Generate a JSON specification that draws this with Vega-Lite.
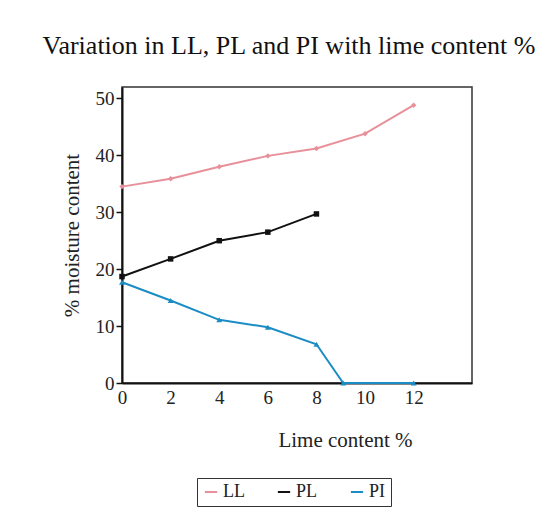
{
  "$schema": "https://vega.github.io/schema/vega-lite/v6.json",
  "autosize": "none",
  "width": 350,
  "height": 296,
  "padding": {"left": 122, "top": 87, "right": 88, "bottom": 139},
  "background": "white",
  "title": {
    "text": "Variation in LL, PL and PI with lime content %",
    "font": "Liberation Serif",
    "fontSize": 26,
    "fontWeight": "normal",
    "color": "#111",
    "anchor": "middle",
    "dx": -8,
    "offset": 28
  },
  "config": {
    "view": {"stroke": "#333", "strokeWidth": 1.5},
    "font": "Liberation Serif"
  },
  "data": {
    "values": [
      {"series": "LL", "lime": 0, "moisture": 34.5},
      {"series": "LL", "lime": 2, "moisture": 35.9},
      {"series": "LL", "lime": 4, "moisture": 38.0},
      {"series": "LL", "lime": 6, "moisture": 39.9},
      {"series": "LL", "lime": 8, "moisture": 41.2},
      {"series": "LL", "lime": 10, "moisture": 43.8},
      {"series": "LL", "lime": 12, "moisture": 48.8},
      {"series": "PL", "lime": 0, "moisture": 18.7},
      {"series": "PL", "lime": 2, "moisture": 21.8},
      {"series": "PL", "lime": 4, "moisture": 25.0},
      {"series": "PL", "lime": 6, "moisture": 26.5},
      {"series": "PL", "lime": 8, "moisture": 29.7},
      {"series": "PI", "lime": 0, "moisture": 17.7},
      {"series": "PI", "lime": 2, "moisture": 14.5},
      {"series": "PI", "lime": 4, "moisture": 11.1},
      {"series": "PI", "lime": 6, "moisture": 9.8},
      {"series": "PI", "lime": 8, "moisture": 6.8},
      {"series": "PI", "lime": 9.1, "moisture": 0},
      {"series": "PI", "lime": 12, "moisture": 0}
    ]
  },
  "encoding": {
    "x": {
      "field": "lime",
      "type": "quantitative",
      "scale": {"domain": [0, 14.4], "nice": false, "zero": false},
      "axis": {
        "values": [0, 2, 4, 6, 8, 10, 12],
        "ticks": false,
        "grid": false,
        "domainColor": "#111",
        "domainWidth": 2,
        "labelFont": "Liberation Serif",
        "labelFontSize": 19,
        "labelColor": "#222",
        "labelPadding": 5,
        "labelFlush": false,
        "labelOverlap": false,
        "title": "Lime content %",
        "titleFont": "Liberation Serif",
        "titleFontSize": 21,
        "titleFontWeight": "normal",
        "titleColor": "#222",
        "titleX": 223,
        "titleY": 57,
        "titleBaseline": "middle"
      }
    },
    "y": {
      "field": "moisture",
      "type": "quantitative",
      "scale": {"domain": [0, 52], "nice": false},
      "axis": {
        "values": [0, 10, 20, 30, 40, 50],
        "grid": false,
        "domainColor": "#111",
        "domainWidth": 2,
        "tickColor": "#111",
        "tickSize": 6,
        "tickWidth": 1.5,
        "labelFont": "Liberation Serif",
        "labelFontSize": 19,
        "labelColor": "#222",
        "labelPadding": 2,
        "labelFlush": false,
        "title": "% moisture content",
        "titleFont": "Liberation Serif",
        "titleFontSize": 21,
        "titleFontWeight": "normal",
        "titleColor": "#222",
        "titlePadding": 13
      }
    },
    "color": {
      "field": "series",
      "type": "nominal",
      "sort": ["LL", "PL", "PI"],
      "scale": {"domain": ["LL", "PL", "PI"], "range": ["#e8909a", "#111111", "#1b8cc4"]},
      "legend": {
        "orient": "none",
        "legendX": 75,
        "legendY": 391,
        "direction": "horizontal",
        "title": null,
        "strokeColor": "#333",
        "padding": 5,
        "symbolType": "stroke",
        "symbolSize": 150,
        "symbolStrokeWidth": 2,
        "labelFont": "Liberation Serif",
        "labelFontSize": 18,
        "labelColor": "#222",
        "columnPadding": 28,
        "labelOffset": 3
      }
    }
  },
  "layer": [
    {
      "mark": {"type": "line", "strokeWidth": 2}
    },
    {
      "transform": [{"filter": "datum.series === 'LL'"}],
      "mark": {"type": "point", "filled": true, "size": 30, "opacity": 1, "shape": "diamond"}
    },
    {
      "transform": [{"filter": "datum.series === 'PL'"}],
      "mark": {"type": "point", "filled": true, "size": 30, "opacity": 1, "shape": "square"}
    },
    {
      "transform": [{"filter": "datum.series === 'PI'"}],
      "mark": {"type": "point", "filled": true, "size": 34, "opacity": 1, "shape": "triangle-up"}
    }
  ]
}
